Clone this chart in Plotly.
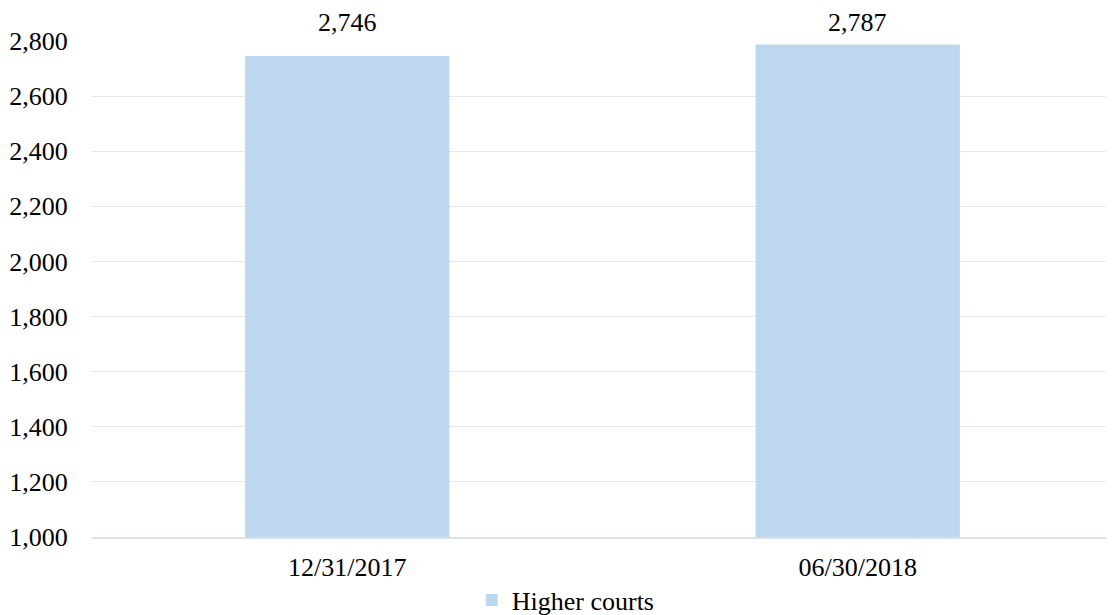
import plotly.graph_objects as go

categories = ["12/31/2017", "06/30/2018"]
values = [2746, 2787]
series_name = "Higher courts"
y_ticks = [1000, 1200, 1400, 1600, 1800, 2000, 2200, 2400, 2600, 2800]

FONT = "Liberation Serif, Times New Roman, serif"
BAR = "#BDD7EE"

fig = go.Figure()
fig.add_trace(go.Bar(
    x=categories, y=values, name=series_name,
    marker=dict(color=BAR, line=dict(width=0)),
    showlegend=True,
))

for c, v in zip(categories, values):
    fig.add_annotation(x=c, y=1, xref="x", yref="paper", text=f"{v:,}",
                       showarrow=False, yanchor="middle", yshift=19,
                       font=dict(family=FONT, size=26, color="#000000"))

# page body has an 8px default margin, so size the figure to fit the 1114x615 window
fig.update_layout(
    width=1106, height=607,
    margin=dict(l=84, r=1, t=33, b=78, autoexpand=False),
    paper_bgcolor="white", plot_bgcolor="white",
    bargap=0.6,
    font=dict(family=FONT, size=26, color="#000000"),
    showlegend=True,
    legend=dict(orientation="h", x=0.464, xanchor="center", y=-0.127, yanchor="middle",
                font=dict(family=FONT, size=26), itemwidth=30, bgcolor="rgba(0,0,0,0)"),
    xaxis=dict(showgrid=False, showline=True, linecolor="#D9E1EA", linewidth=2,
               automargin=False,
               ticks="outside", ticklen=6, tickcolor="rgba(0,0,0,0)",
               tickfont=dict(family=FONT, size=26)),
    yaxis=dict(range=[1000, 2800], tickvals=y_ticks, tickformat=",d",
               automargin=False,
               showgrid=True, gridcolor="#E4E7EC", gridwidth=1,
               zeroline=False, showline=False,
               ticks="outside", ticklen=18, tickcolor="rgba(0,0,0,0)",
               tickfont=dict(family=FONT, size=26)),
)

fig.write_html("out.html")
